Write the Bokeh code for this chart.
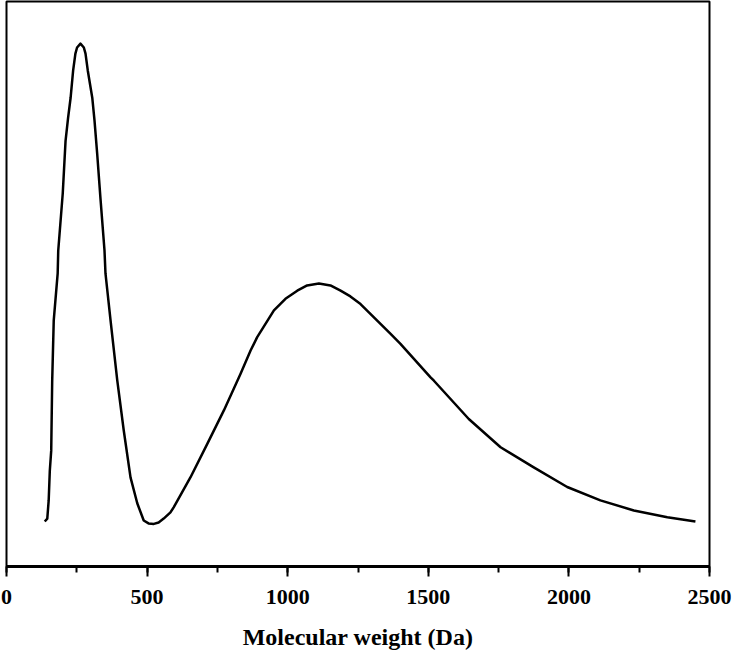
from bokeh.plotting import figure
from bokeh.layouts import column
from bokeh.models import SingleIntervalTicker, Range1d, Label
from bokeh.embed import file_html
from bokeh.resources import INLINE

# Molecular weight (Da) and normalised signal
mw = [136, 145, 150, 154, 159, 162.5, 168, 182, 184, 200, 210, 219, 228, 237, 245, 251,
      263, 275, 281, 289, 305, 313, 322.5, 334, 348.5, 352, 370, 394, 417, 441, 465,
      488, 505, 524, 541, 559, 583, 595, 654, 714, 773, 832, 868, 891.5, 951, 992,
      1034, 1069, 1111, 1152, 1188, 1223, 1259, 1366, 1401, 1508, 1520, 1644, 1757,
      1875, 1994, 2112, 2231, 2350, 2450]
signal = [0.0, 0.006, 0.044, 0.106, 0.148, 0.294, 0.420, 0.518, 0.566, 0.685, 0.795,
          0.843, 0.885, 0.942, 0.977, 0.990, 0.998, 0.990, 0.977, 0.942, 0.885, 0.837,
          0.768, 0.676, 0.566, 0.518, 0.420, 0.294, 0.190, 0.092, 0.038, 0.002, -0.004,
          -0.005, -0.002, 0.006, 0.019, 0.030, 0.092, 0.162, 0.232, 0.308, 0.357,
          0.385, 0.441, 0.465, 0.482, 0.493, 0.497, 0.493, 0.482, 0.470, 0.454, 0.392,
          0.371, 0.301, 0.294, 0.214, 0.155, 0.113, 0.072, 0.044, 0.023, 0.009, 0.0]
x_ticks_interval = 500
x_label = "Molecular weight (Da)"

p = figure(width=733, height=612, output_backend="svg", toolbar_location=None,
           x_range=Range1d(0, 2500), y_range=Range1d(-0.094, 1.086),
           min_border_left=6, min_border_right=24, min_border_top=1, min_border_bottom=46)
p.line(mw, signal, line_color="black", line_width=2.5, line_join="round")

p.grid.visible = False
p.yaxis.visible = False
p.outline_line_color = "black"
p.outline_line_width = 2
p.outline_line_alpha = 1

ax = p.xaxis[0]
ax.ticker = SingleIntervalTicker(interval=x_ticks_interval, num_minor_ticks=2)
ax.axis_line_width = 3
ax.axis_line_color = "black"
ax.major_tick_line_width = 2
ax.major_tick_line_color = "black"
ax.major_tick_in = 0
ax.major_tick_out = 10
ax.minor_tick_line_width = 2
ax.minor_tick_line_color = "black"
ax.minor_tick_in = 0
ax.minor_tick_out = 6
ax.major_label_text_font = "Liberation Serif"
ax.major_label_text_font_style = "bold"
ax.major_label_text_font_size = "22px"
ax.major_label_text_color = "black"
ax.major_label_standoff = 13

# strip below the chart that carries the x-axis title
q = figure(width=733, height=39, output_backend="svg", toolbar_location=None,
           x_range=p.x_range, y_range=Range1d(0, 39), x_axis_type=None, y_axis_type=None,
           min_border_left=6, min_border_right=24, min_border_top=0, min_border_bottom=0)
q.grid.visible = False
q.outline_line_color = None
q.add_layout(Label(x=1250, y=15, x_units="data", y_units="data", text=x_label,
                   text_font="Liberation Serif", text_font_style="bold",
                   text_font_size="24px", text_color="black",
                   text_align="center", text_baseline="middle"))

layout = column(p, q, spacing=0)
open("out.html", "w").write(file_html(layout, INLINE))
